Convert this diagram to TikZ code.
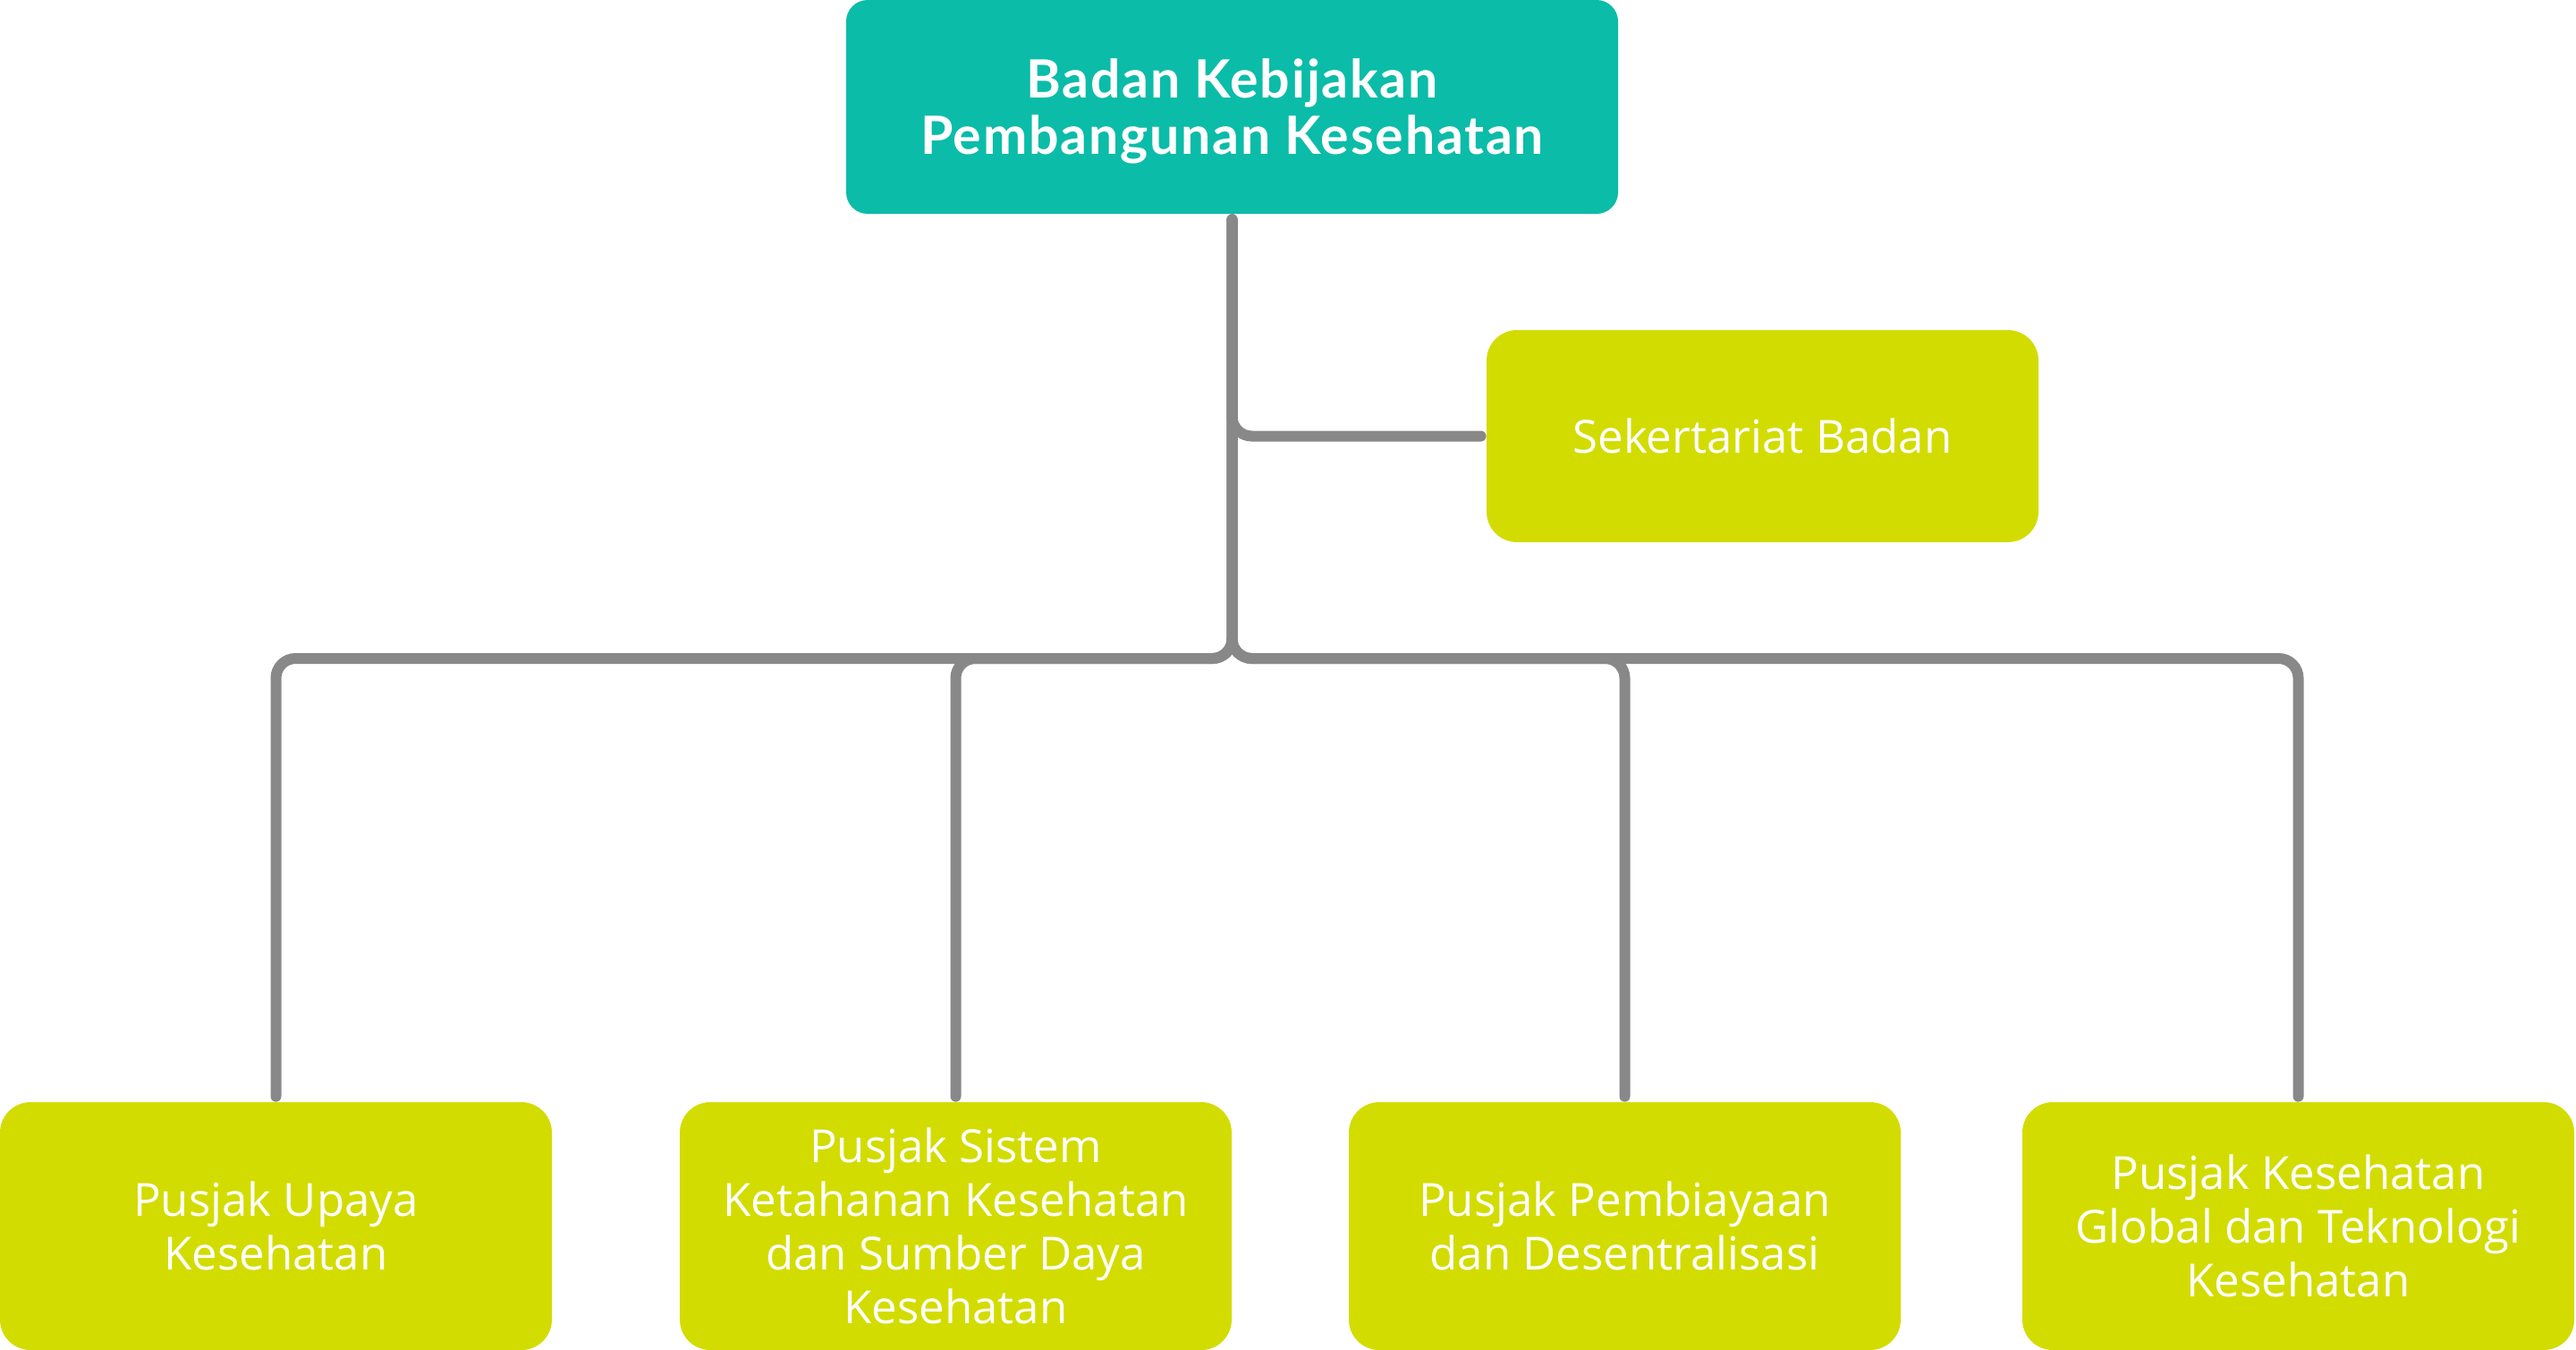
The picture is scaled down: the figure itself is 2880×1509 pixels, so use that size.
\documentclass[tikz,border=0pt]{standalone}
\usepackage{fontspec}
\setmainfont{Open Sans}
\newfontfamily\topfont{Lato}[LetterSpace=3]
\definecolor{teal}{HTML}{0BBCA8}
\definecolor{lime}{HTML}{D3DC00}
\definecolor{conngrey}{HTML}{888888}
\begin{document}
\begin{tikzpicture}[x=0.5pt,y=-0.5pt,
  headbox/.style={fill=teal,draw=none,rounded corners=12pt,minimum width=431.5pt,minimum height=119.5pt,inner sep=0pt,text=white,align=center,font=\topfont\bfseries\fontsize{29.5}{31}\selectfont},
  unitbox/.style={fill=lime,draw=none,rounded corners=17pt,minimum width=308.5pt,inner sep=0pt,text=white,align=center,font=\fontsize{25.5}{30}\selectfont},
  conn/.style={draw=conngrey,line width=6pt,line cap=round,rounded corners=11pt,shorten <=3pt,shorten >=3pt}]
\useasboundingbox (0,0) rectangle (2880,1509);
\node[headbox] (top) at (1377.5,119.5) {\raisebox{-4.5pt}[\height][\depth]{\begin{tabular}{@{}c@{}}Badan Kebijakan\\Pembangunan Kesehatan\end{tabular}}};
\node[unitbox,minimum height=118.5pt] (sek) at (1970.5,487.5) {Sekertariat Badan};
\node[unitbox,minimum height=138.5pt] (b1) at (308.5,1370.5) {Pusjak Upaya\\Kesehatan};
\node[unitbox,minimum height=138.5pt] (b2) at (1068.5,1370.5) {Pusjak Sistem\\Ketahanan Kesehatan\\dan Sumber Daya\\Kesehatan};
\node[unitbox,minimum height=138.5pt] (b3) at (1816.5,1370.5) {Pusjak Pembiayaan\\dan Desentralisasi};
\node[unitbox,minimum height=138.5pt] (b4) at (2569.5,1370.5) {Pusjak Kesehatan\\Global dan Teknologi\\Kesehatan};
\coordinate (bus) at (1377.5,736);
\draw[conn] (top.south) |- (sek.west);
\draw[conn] (top.south) -- (bus) -| (b1.north);
\draw[conn] (top.south) -- (bus) -| (b2.north);
\draw[conn] (top.south) -- (bus) -| (b3.north);
\draw[conn] (top.south) -- (bus) -| (b4.north);
\end{tikzpicture}
\end{document}
